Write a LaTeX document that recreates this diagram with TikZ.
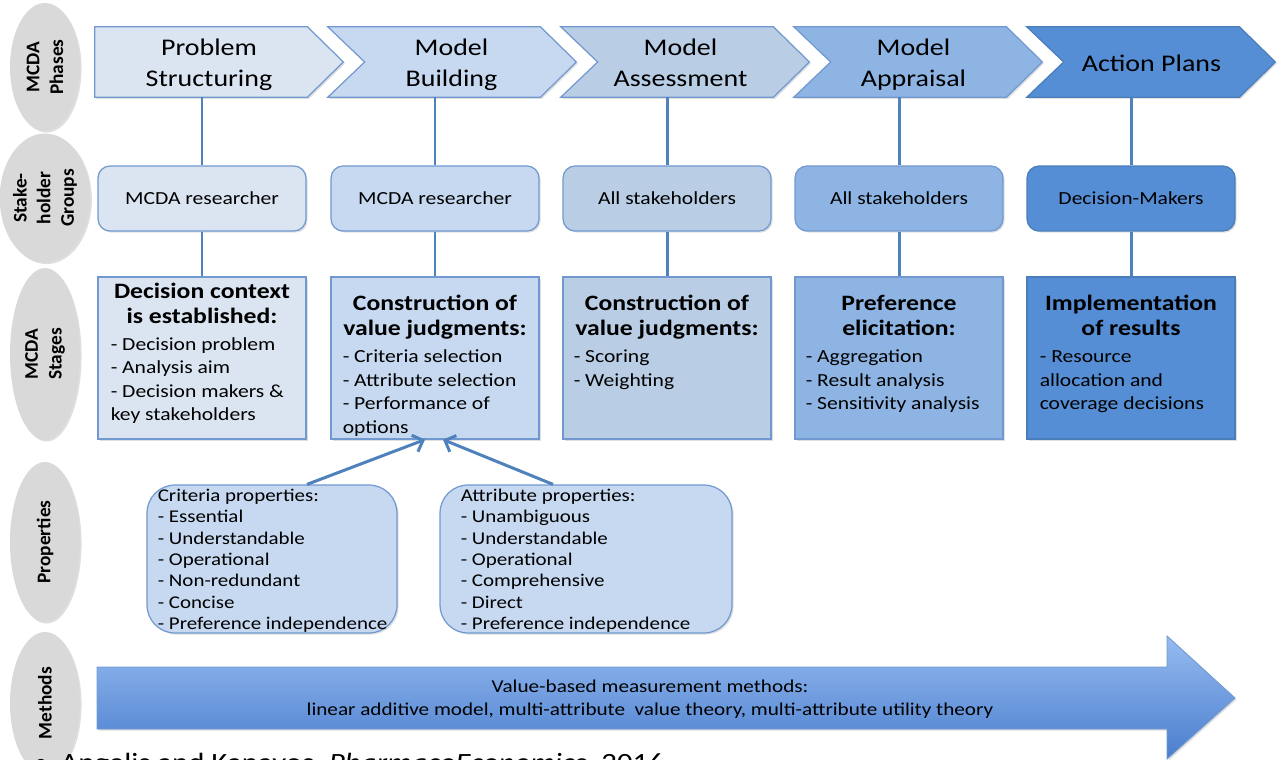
\documentclass[tikz,border=0pt]{standalone}
\usepackage{fontspec}
\setmainfont[FakeStretch=1.17]{Carlito}
\newfontfamily\plainfont{Carlito}
\usetikzlibrary{calc,shadows,arrows.meta,shapes.geometric}
\pgfdeclarelayer{bg}
\pgfsetlayers{bg,main}

% column colours, light to dark
\definecolor{colA}{HTML}{DBE5F1}
\definecolor{colB}{HTML}{C6D9F1}
\definecolor{colC}{HTML}{B9CDE5}
\definecolor{colD}{HTML}{8EB4E3}
\definecolor{colE}{HTML}{558ED5}
\definecolor{edgeblue}{HTML}{7199D0}
\definecolor{edgedark}{HTML}{4A7EBB}
\definecolor{linkblue}{HTML}{4F81BD}
\definecolor{labgray}{HTML}{D9D9D9}
\definecolor{arrowtop}{HTML}{96BBF0}
\definecolor{arrowbot}{HTML}{4A7ECE}

% type sizes
\newcommand\bodyfs{\fontsize{10.5}{13.4}\selectfont}
\newcommand\headfs{\fontsize{12.5}{14.2}\selectfont\bfseries}
\newcommand\phasefs{\fontsize{13.6}{17.6}\selectfont}
\newcommand\propfs{\fontsize{10.2}{12.2}\selectfont}
\newcommand\methfs{\fontsize{10.3}{13.1}\selectfont}
\newcommand\labfs{\plainfont\bfseries\fontsize{11}{13.5}\selectfont}

\begin{document}
\begin{tikzpicture}[x=0.02cm, y=-0.02cm,
  softshadow/.style={drop shadow={opacity=0.25, shadow xshift=0.9pt, shadow yshift=-0.9pt}},
  sidelabel/.style={ellipse, fill=labgray, rotate=90, inner sep=0, align=center,
    font=\labfs, minimum height=1.4cm, softshadow},
  phasebody/.style={inner sep=0, minimum height=1.4cm},
  phasetext/.style={inner sep=0, align=center, font=\phasefs},
  chev/.style={draw=edgeblue, line width=0.7pt, softshadow},
  shbox/.style={draw=edgeblue, line width=0.7pt, rounded corners=0.24cm,
    minimum width=4.16cm, minimum height=1.3cm, font=\bodyfs, softshadow},
  stbox/.style={draw=edgeblue, line width=0.7pt, minimum width=4.16cm,
    minimum height=3.24cm, softshadow},
  stagehead/.style={anchor=north, align=center, inner sep=0, font=\headfs},
  stageitems/.style={anchor=north west, align=left, inner sep=0, font=\bodyfs},
  prbox/.style={draw=edgeblue, fill=colB, line width=0.7pt, rounded corners=0.56cm,
    minimum height=2.96cm, softshadow},
  proptext/.style={anchor=north west, align=left, inner sep=0, font=\propfs},
  link/.style={draw=linkblue, line width=1.7pt},
  arr/.style={link, -{Straight Barb[length=5pt, width=10pt]}},
]
\useasboundingbox (0,0) rectangle (1278,760);
\begin{pgfonlayer}{bg}
  \fill[white] (0,0) rectangle (1278,760);
\end{pgfonlayer}

% row labels
\node[sidelabel, minimum width=2.56cm] (lphase) at (45,67) {MCDA\\Phases};
\node[sidelabel, minimum width=2.58cm] (lgroup) at (45,198) {Stake-\\holder\\Groups};
\node[sidelabel, minimum width=3.44cm] (lstage) at (45,354) {MCDA\\Stages};
\node[sidelabel, minimum width=3.2cm] (lprop) at (45,542) {Properties};
\node[sidelabel, minimum width=2.84cm] (lmeth) at (45,703) {Methods};

% phases: body of each chevron, its outline, and its title
\node[phasebody, minimum width=4.24cm] (ph1) at (201,62) {};
\node[phasebody, minimum width=3.5cm] (ph2) at (452.5,62) {};
\node[phasebody, minimum width=3.5cm] (ph3) at (685.5,62) {};
\node[phasebody, minimum width=3.5cm] (ph4) at (918.5,62) {};
\node[phasebody, minimum width=3.5cm] (ph5) at (1151.5,62) {};

\begin{pgfonlayer}{bg}
  \path[chev, fill=colA] (ph1.north west) -- (ph1.north east) -- ($(ph1.east)+(36,0)$)
    -- (ph1.south east) -- (ph1.south west) -- cycle;
  \foreach \n/\c/\e in {ph2/colB/edgeblue, ph3/colC/edgeblue, ph4/colD/edgeblue, ph5/colE/edgedark}{
    \path[chev, fill=\c, draw=\e] ($(\n.north west)+(-37,0)$) -- (\n.north east)
      -- ($(\n.east)+(36,0)$) -- (\n.south east) -- ($(\n.south west)+(-37,0)$)
      -- (\n.west) -- cycle;
  }
\end{pgfonlayer}

\node[phasetext] (ph1t) at ($(ph1)+(8,2.5)$) {Problem\\Structuring};
\node[phasetext] (ph2t) at ($(ph2)+(-1,2.5)$) {Model\\Building};
\node[phasetext] (ph3t) at ($(ph3)+(-5,1)$) {Model\\Assessment};
\node[phasetext] (ph4t) at ($(ph4)+(-5,2.5)$) {Model\\Appraisal};
\node[phasetext] (ph5t) at ($(ph5)+(0,1.5)$) {Action Plans};

% stakeholder groups
\node[shbox, fill=colA] (sh1) at (202,198.5) {MCDA researcher};
\node[shbox, fill=colB] (sh2) at (435,198.5) {MCDA researcher};
\node[shbox, fill=colC] (sh3) at (667,198.5) {All stakeholders};
\node[shbox, fill=colD] (sh4) at (899,198.5) {All stakeholders};
\node[shbox, fill=colE, draw=edgedark] (sh5) at (1131,198.5) {Decision-Makers};

% stages
\node[stbox, fill=colA] (st1) at (202,358) {};
\node[stbox, fill=colB] (st2) at (435,358) {};
\node[stbox, fill=colC] (st3) at (667,358) {};
\node[stbox, fill=colD] (st4) at (899,358) {};
\node[stbox, fill=colE, draw=edgedark] (st5) at (1131,358) {};

\node[stagehead] (st1h) at ($(st1.north)+(0,4.5)$) {\strut Decision context\\is established:};
\node[stageitems] (st1i) at ($(st1.north west)+(13,57)$)
  {\strut - Decision problem\\- Analysis aim\\- Decision makers \&\\key stakeholders};
\node[stagehead] (st2h) at ($(st2.north)+(0,16.5)$) {\strut Construction of\\value judgments:};
\node[stageitems] (st2i) at ($(st2.north west)+(12,69.5)$)
  {\strut - Criteria selection\\- Attribute selection\\- Performance of\\options};
\node[stagehead] (st3h) at ($(st3.north)+(0,16.5)$) {\strut Construction of\\value judgments:};
\node[stageitems] (st3i) at ($(st3.north west)+(11,69.5)$)
  {\strut - Scoring\\- Weighting};
\node[stagehead] (st4h) at ($(st4.north)+(0,16.5)$) {\strut Preference\\elicitation:};
\node[stageitems] (st4i) at ($(st4.north west)+(11,69.5)$)
  {\strut - Aggregation\\- Result analysis\\- Sensitivity analysis};
\node[stagehead] (st5h) at ($(st5.north)+(0,16.5)$) {\strut Implementation\\of results};
\node[stageitems] (st5i) at ($(st5.north west)+(13,69.5)$)
  {\strut - Resource\\allocation and\\coverage decisions};

% connectors between rows
\foreach \k in {1,...,5}{
  \draw[link] (sh\k.north) -- (sh\k.north |- ph\k.south);
  \draw[link] (sh\k.south) -- (st\k.north);
}

% properties
\node[prbox, minimum width=5.0cm] (pr1) at (272,559) {};
\node[prbox, minimum width=5.84cm] (pr2) at (586,559) {};
\node[proptext] (pr1t) at ($(pr1.north west)+(11,1.5)$)
  {\strut Criteria properties:\\- Essential\\- Understandable\\- Operational\\- Non-redundant\\- Concise\\- Preference independence};
\node[proptext] (pr2t) at ($(pr2.north west)+(21,1.5)$)
  {\strut Attribute properties:\\- Unambiguous\\- Understandable\\- Operational\\- Comprehensive\\- Direct\\- Preference independence};
\draw[arr] ($(pr1.north)+(35,0)$) -- ($(st2.south)+(-10,0)$);
\draw[arr] ($(pr2.north)+(-33,0)$) -- ($(st2.south)+(8,0)$);

% methods arrow
\path[top color=arrowtop, bottom color=arrowbot, draw=edgeblue, line width=0.5pt, softshadow]
  (97,667) -- (1167,667) -- (1167,636) -- (1235,698) -- (1167,759) -- (1167,729) -- (97,729) -- cycle;
\node[font=\methfs, align=center] (meth) at (650,699.5)
  {Value-based measurement methods:\\linear additive model, multi-attribute\ \ value theory, multi-attribute utility theory};

% source line
\node[anchor=base west, inner sep=0, font=\fontsize{15}{17}\selectfont] (src) at (33,771)
  {\textbullet\hspace{0.45em}Angelis and Kanavos, \textit{PharmacoEconomics}, 2016};
\end{tikzpicture}
\end{document}
